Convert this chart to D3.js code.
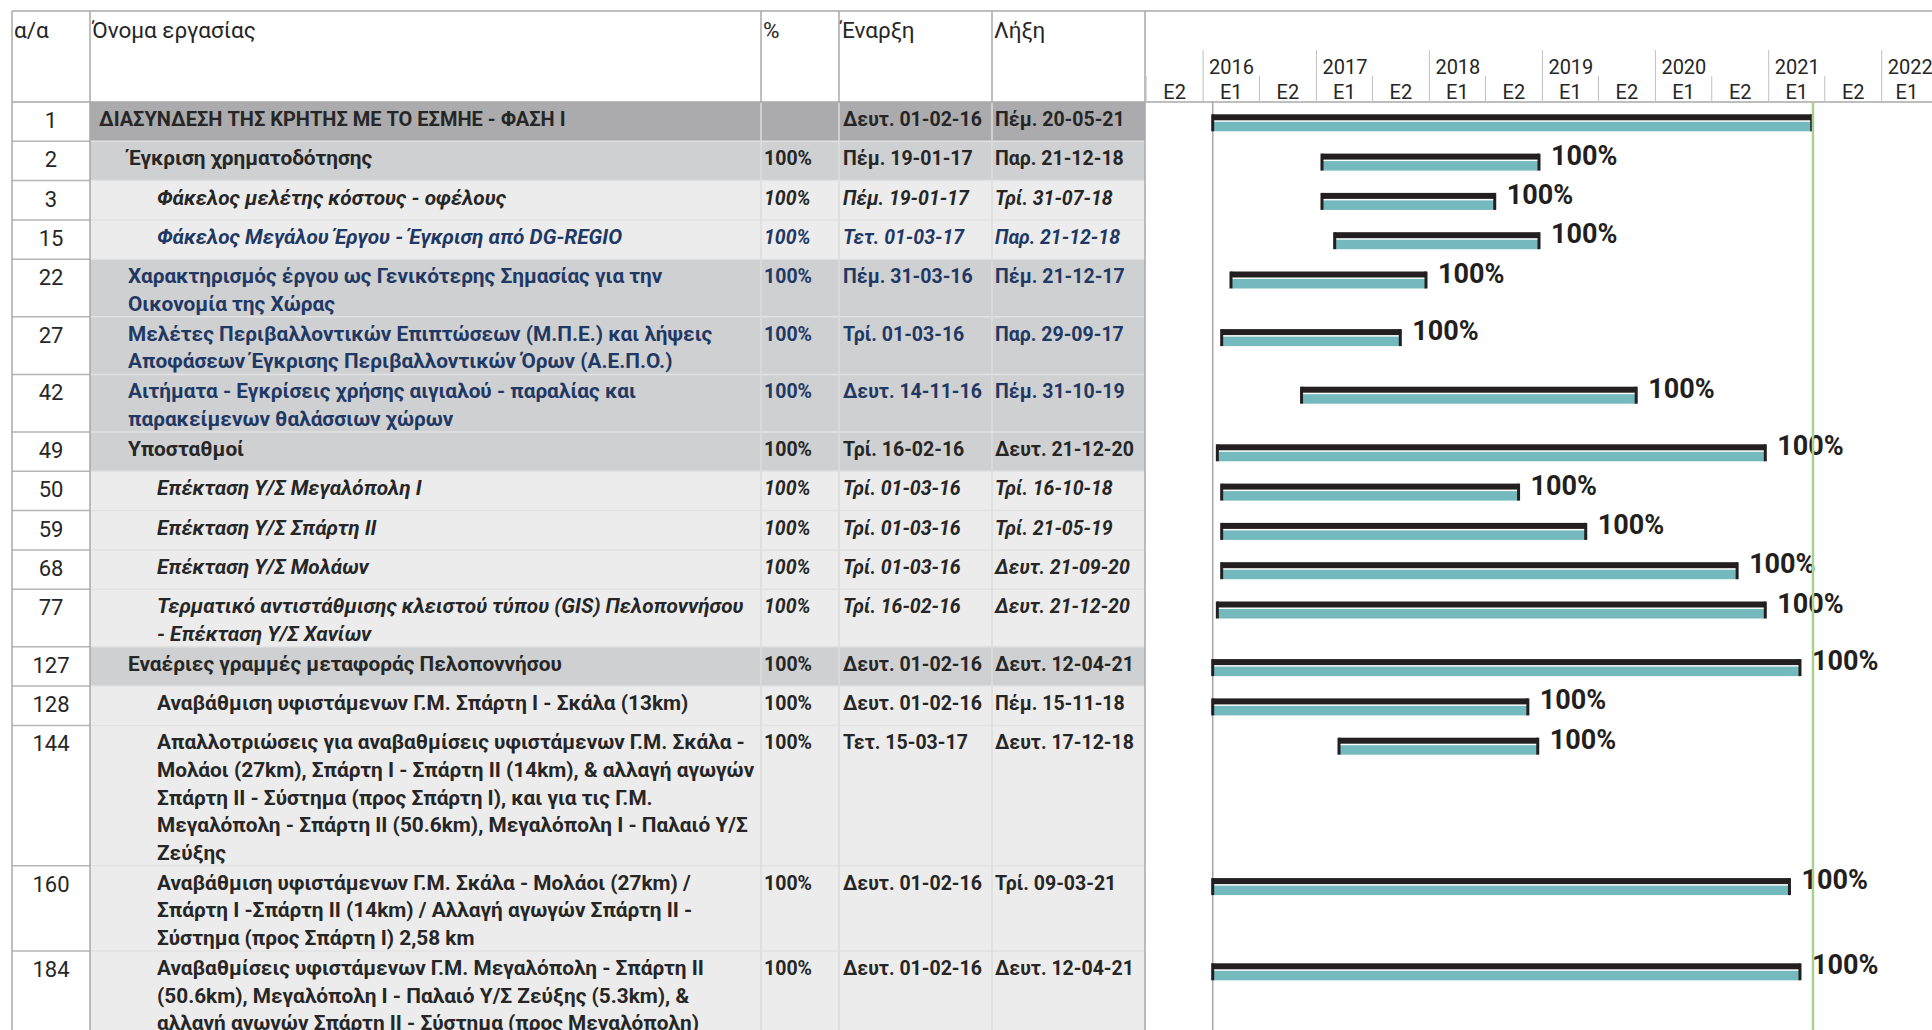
<!DOCTYPE html>
<html lang="el">
<head>
<meta charset="utf-8">
<script src="https://cdn.jsdelivr.net/npm/d3@7"></script>
<style>
  body { margin: 0; background: #fff; }
  svg text { font-family: Roboto, "Noto Sans", sans-serif; }
</style>
</head>
<body>
<div id="chart"></div>
<script>
const taskIds = [1, 2, 3, 15, 22, 27, 42, 49, 50, 59, 68, 77, 127, 128, 144, 160, 184];
const taskLevels = [0, 1, 2, 2, 1, 1, 1, 1, 2, 2, 2, 2, 1, 2, 2, 2, 2];
const taskNames = [
  'ΔΙΑΣΥΝΔΕΣΗ ΤΗΣ ΚΡΗΤΗΣ ΜΕ ΤΟ ΕΣΜΗΕ - ΦΑΣΗ Ι',
  'Έγκριση χρηματοδότησης',
  'Φάκελος μελέτης κόστους - οφέλους',
  'Φάκελος Μεγάλου Έργου - Έγκριση από DG-REGIO',
  'Χαρακτηρισμός έργου ως Γενικότερης Σημασίας για την\nΟικονομία της Χώρας',
  'Μελέτες Περιβαλλοντικών Επιπτώσεων (Μ.Π.Ε.) και λήψεις\nΑποφάσεων Έγκρισης Περιβαλλοντικών Όρων (Α.Ε.Π.Ο.)',
  'Αιτήματα - Εγκρίσεις χρήσης αιγιαλού - παραλίας και\nπαρακείμενων θαλάσσιων χώρων',
  'Υποσταθμοί',
  'Επέκταση Υ/Σ Μεγαλόπολη Ι',
  'Επέκταση Υ/Σ Σπάρτη ΙΙ',
  'Επέκταση Υ/Σ Μολάων',
  'Τερματικό αντιστάθμισης κλειστού τύπου (GIS) Πελοποννήσου\n- Επέκταση Υ/Σ Χανίων',
  'Εναέριες γραμμές μεταφοράς Πελοποννήσου',
  'Αναβάθμιση υφιστάμενων Γ.Μ. Σπάρτη Ι - Σκάλα (13km)',
  'Απαλλοτριώσεις για αναβαθμίσεις υφιστάμενων Γ.Μ. Σκάλα -\nΜολάοι (27km), Σπάρτη Ι - Σπάρτη ΙΙ (14km), & αλλαγή αγωγών\nΣπάρτη ΙΙ - Σύστημα (προς Σπάρτη Ι), και για τις Γ.Μ.\nΜεγαλόπολη - Σπάρτη ΙΙ (50.6km), Μεγαλόπολη Ι - Παλαιό Υ/Σ\nΖεύξης',
  'Αναβάθμιση υφιστάμενων Γ.Μ. Σκάλα - Μολάοι (27km) /\nΣπάρτη Ι -Σπάρτη ΙΙ (14km) / Αλλαγή αγωγών Σπάρτη ΙΙ -\nΣύστημα (προς Σπάρτη Ι) 2,58 km',
  'Αναβαθμίσεις υφιστάμενων Γ.Μ. Μεγαλόπολη - Σπάρτη ΙΙ\n(50.6km), Μεγαλόπολη Ι - Παλαιό Υ/Σ Ζεύξης (5.3km), &\nαλλαγή αγωγών Σπάρτη ΙΙ - Σύστημα (προς Μεγαλόπολη)'
];
const taskPercent = [null, 100, 100, 100, 100, 100, 100, 100, 100, 100, 100, 100, 100, 100, 100, 100, 100];
const startLabels = [
  'Δευτ. 01-02-16', 'Πέμ. 19-01-17', 'Πέμ. 19-01-17', 'Τετ. 01-03-17', 'Πέμ. 31-03-16',
  'Τρί. 01-03-16', 'Δευτ. 14-11-16', 'Τρί. 16-02-16', 'Τρί. 01-03-16', 'Τρί. 01-03-16',
  'Τρί. 01-03-16', 'Τρί. 16-02-16', 'Δευτ. 01-02-16', 'Δευτ. 01-02-16', 'Τετ. 15-03-17',
  'Δευτ. 01-02-16', 'Δευτ. 01-02-16'
];
const finishLabels = [
  'Πέμ. 20-05-21', 'Παρ. 21-12-18', 'Τρί. 31-07-18', 'Παρ. 21-12-18', 'Πέμ. 21-12-17',
  'Παρ. 29-09-17', 'Πέμ. 31-10-19', 'Δευτ. 21-12-20', 'Τρί. 16-10-18', 'Τρί. 21-05-19',
  'Δευτ. 21-09-20', 'Δευτ. 21-12-20', 'Δευτ. 12-04-21', 'Πέμ. 15-11-18', 'Δευτ. 17-12-18',
  'Τρί. 09-03-21', 'Δευτ. 12-04-21'
];
const headerLabels = ['α/α', 'Όνομα εργασίας', '%', 'Έναρξη', 'Λήξη'];
const yearLabels = ['2016', '2017', '2018', '2019', '2020', '2021', '2022'];
const halfLabels = ['E1', 'E2'];
const projectStart = '01-02-16';
const statusDate = '24-05-21';

// ---- layout ----
const width = 1932;
const height = 1030;
const colX = [12, 90, 761, 839, 992, 1145];
const tableTop = 11;
const headerBottom = 102;
const chartLeft = colX[5];
const textColor = '#262626';
const navyIds = new Set([15, 22, 27, 42]);
const italicIds = new Set([3, 15, 50, 59, 68, 77]);
const levelFill = ['#ababad', '#cfd0d2', '#ececec'];

const parseDay = d3.timeParse('%d-%m-%y');
const labelDate = s => parseDay(s.split(' ')[1]);

const tasks = taskIds.map((id, i) => ({
  id,
  level: taskLevels[i],
  lines: taskNames[i].split('\n'),
  percent: taskPercent[i],
  startLabel: startLabels[i],
  finishLabel: finishLabels[i],
  start: labelDate(startLabels[i]),
  finish: labelDate(finishLabels[i])
}));

// row heights follow the number of text lines
let yCursor = headerBottom;
tasks.forEach(t => {
  t.h = t.lines.length === 1 ? 39.3 : 27.6 * t.lines.length + 2.4;
  t.y = yCursor;
  yCursor += t.h;
});

const x = d3.scaleTime()
  .domain([new Date(2016, 0, 1), new Date(2022, 0, 1)])
  .range([1203.1, 1881.7]);

const svg = d3.select('#chart')
  .append('svg')
  .attr('width', width)
  .attr('height', height);

// ---- table ----
const rows = svg.append('g').attr('class', 'rows');

rows.selectAll('rect.bg')
  .data(tasks)
  .enter()
  .append('rect')
  .attr('class', 'bg')
  .attr('x', colX[1])
  .attr('y', d => d.y)
  .attr('width', colX[5] - colX[1])
  .attr('height', d => d.h)
  .attr('fill', d => levelFill[d.level]);

// light separators between rows inside the shaded part
rows.selectAll('line.sep')
  .data(tasks)
  .enter()
  .append('line')
  .attr('x1', colX[1])
  .attr('x2', colX[5])
  .attr('y1', d => d.y + d.h)
  .attr('y2', d => d.y + d.h)
  .attr('stroke', '#e2e2e2')
  .attr('stroke-width', 1.5);

// row number column borders
rows.selectAll('line.numsep')
  .data(tasks)
  .enter()
  .append('line')
  .attr('x1', colX[0])
  .attr('x2', colX[1])
  .attr('y1', d => d.y + d.h)
  .attr('y2', d => d.y + d.h)
  .attr('stroke', '#b5b5b5')
  .attr('stroke-width', 1.5);

// inner column lines in the body
[colX[2], colX[3], colX[4]].forEach(cx => {
  rows.append('line')
    .attr('x1', cx).attr('x2', cx)
    .attr('y1', headerBottom).attr('y2', height)
    .attr('stroke', '#dcdcdc')
    .attr('stroke-width', 1.5);
});

// header column lines
colX.forEach((cx, i) => {
  svg.append('line')
    .attr('x1', cx).attr('x2', cx)
    .attr('y1', tableTop)
    .attr('y2', (i === 0 || i === 1 || i === 5) ? height : headerBottom)
    .attr('stroke', '#a9a9a9')
    .attr('stroke-width', 1.5);
});

[tableTop, headerBottom].forEach(yy => {
  svg.append('line')
    .attr('x1', colX[0]).attr('x2', width)
    .attr('y1', yy).attr('y2', yy)
    .attr('stroke', '#a9a9a9')
    .attr('stroke-width', 1.5);
});

svg.append('g')
  .selectAll('text')
  .data(headerLabels)
  .enter()
  .append('text')
  .attr('x', (d, i) => colX[i] + 2)
  .attr('y', 38)
  .attr('font-size', 22.5)
  .attr('fill', textColor)
  .text(d => d);

const cells = rows.selectAll('g.task')
  .data(tasks)
  .enter()
  .append('g')
  .attr('class', 'task')
  .attr('fill', d => navyIds.has(d.id) ? '#1f3864' : textColor)
  .attr('font-style', d => italicIds.has(d.id) ? 'italic' : 'normal')
  .attr('font-size', 19.5);

cells.append('text')
  .attr('x', (colX[0] + colX[1]) / 2)
  .attr('y', d => d.y + 26)
  .attr('text-anchor', 'middle')
  .attr('font-style', 'normal')
  .attr('fill', textColor)
  .attr('font-size', 22)
  .text(d => d.id);

cells.each(function (d) {
  const g = d3.select(this);
  g.selectAll('text.name')
    .data(d.lines)
    .enter()
    .append('text')
    .attr('class', 'name')
    .attr('x', 99 + d.level * 29)
    .attr('y', (l, i) => d.y + 24 + i * 27.6)
    .attr('font-size', d.level === 0 ? 20 : 20.8)
    .attr('font-weight', 'bold')
    .text(l => l);
});

cells.append('text')
  .attr('x', colX[2] + 3)
  .attr('y', d => d.y + 24)
  .attr('font-weight', 'bold')
  .text(d => d.percent == null ? '' : d.percent + '%');

cells.append('text')
  .attr('x', colX[3] + 4)
  .attr('y', d => d.y + 24)
  .attr('font-weight', 'bold')
  .text(d => d.startLabel);

cells.append('text')
  .attr('x', colX[4] + 3)
  .attr('y', d => d.y + 24)
  .attr('font-weight', 'bold')
  .text(d => d.finishLabel);

// ---- timescale header ----
const timescale = svg.append('g').attr('class', 'timescale');
const years = yearLabels.map(d3.timeParse('%Y'));
const halves = d3.timeMonth.every(6).range(new Date(2015, 6, 1), new Date(2022, 0, 2));

timescale.selectAll('line.year')
  .data(years)
  .enter()
  .append('line')
  .attr('x1', d => x(d)).attr('x2', d => x(d))
  .attr('y1', 50).attr('y2', headerBottom)
  .attr('stroke', '#c0c0c0');

timescale.selectAll('text.year')
  .data(years)
  .enter()
  .append('text')
  .attr('x', d => x(d) + 6)
  .attr('y', 74)
  .attr('font-size', 20)
  .attr('fill', textColor)
  .text((d, i) => yearLabels[i]);

timescale.selectAll('line.half')
  .data(halves.filter(d => d.getMonth() === 6))
  .enter()
  .append('line')
  .attr('x1', d => x(d)).attr('x2', d => x(d))
  .attr('y1', 76).attr('y2', headerBottom)
  .attr('stroke', '#c0c0c0');

timescale.selectAll('text.half')
  .data(halves)
  .enter()
  .append('text')
  .attr('x', d => {
    const a = Math.max(x(d), chartLeft);
    const b = Math.min(x(d3.timeMonth.offset(d, 6)), width);
    return (a + b) / 2;
  })
  .attr('y', 99)
  .attr('text-anchor', 'middle')
  .attr('font-size', 20)
  .attr('fill', textColor)
  .text(d => halfLabels[d.getMonth() === 0 ? 0 : 1]);

// ---- bars ----
const chart = svg.append('g').attr('class', 'bars');

chart.append('line')
  .attr('x1', x(parseDay(projectStart))).attr('x2', x(parseDay(projectStart)))
  .attr('y1', headerBottom).attr('y2', height)
  .attr('stroke', '#a6a6a6')
  .attr('stroke-width', 1.5);

const bars = chart.selectAll('g.bar')
  .data(tasks)
  .enter()
  .append('g')
  .attr('class', 'bar')
  .attr('transform', d => 'translate(0,' + (d.y + 12.3) + ')');

bars.append('rect')
  .attr('x', d => x(d.start))
  .attr('y', 0)
  .attr('width', d => x(d.finish) - x(d.start))
  .attr('height', 6)
  .attr('fill', '#231f20');

bars.append('rect')
  .attr('x', d => x(d.start) + 1)
  .attr('y', 7.5)
  .attr('width', d => x(d.finish) - x(d.start) - 1)
  .attr('height', 9.5)
  .attr('fill', '#74b9bd');

bars.append('rect')
  .attr('x', d => x(d.start) - 1.5)
  .attr('y', 0)
  .attr('width', 3)
  .attr('height', 17)
  .attr('fill', '#231f20');

bars.append('rect')
  .attr('x', d => x(d.finish) - 1.5)
  .attr('y', 0)
  .attr('width', 3)
  .attr('height', 17)
  .attr('fill', '#231f20');

bars.append('text')
  .attr('x', d => x(d.finish) + 12)
  .attr('y', 11)
  .attr('font-size', 27)
  .attr('font-weight', 'bold')
  .attr('fill', '#231f20')
  .text(d => d.percent == null ? '' : d.percent + '%');

// status date line on top
chart.append('line')
  .attr('x1', x(parseDay(statusDate))).attr('x2', x(parseDay(statusDate)))
  .attr('y1', headerBottom).attr('y2', height)
  .attr('stroke', '#a9d18e')
  .attr('stroke-width', 2.5);
</script>
</body>
</html>
